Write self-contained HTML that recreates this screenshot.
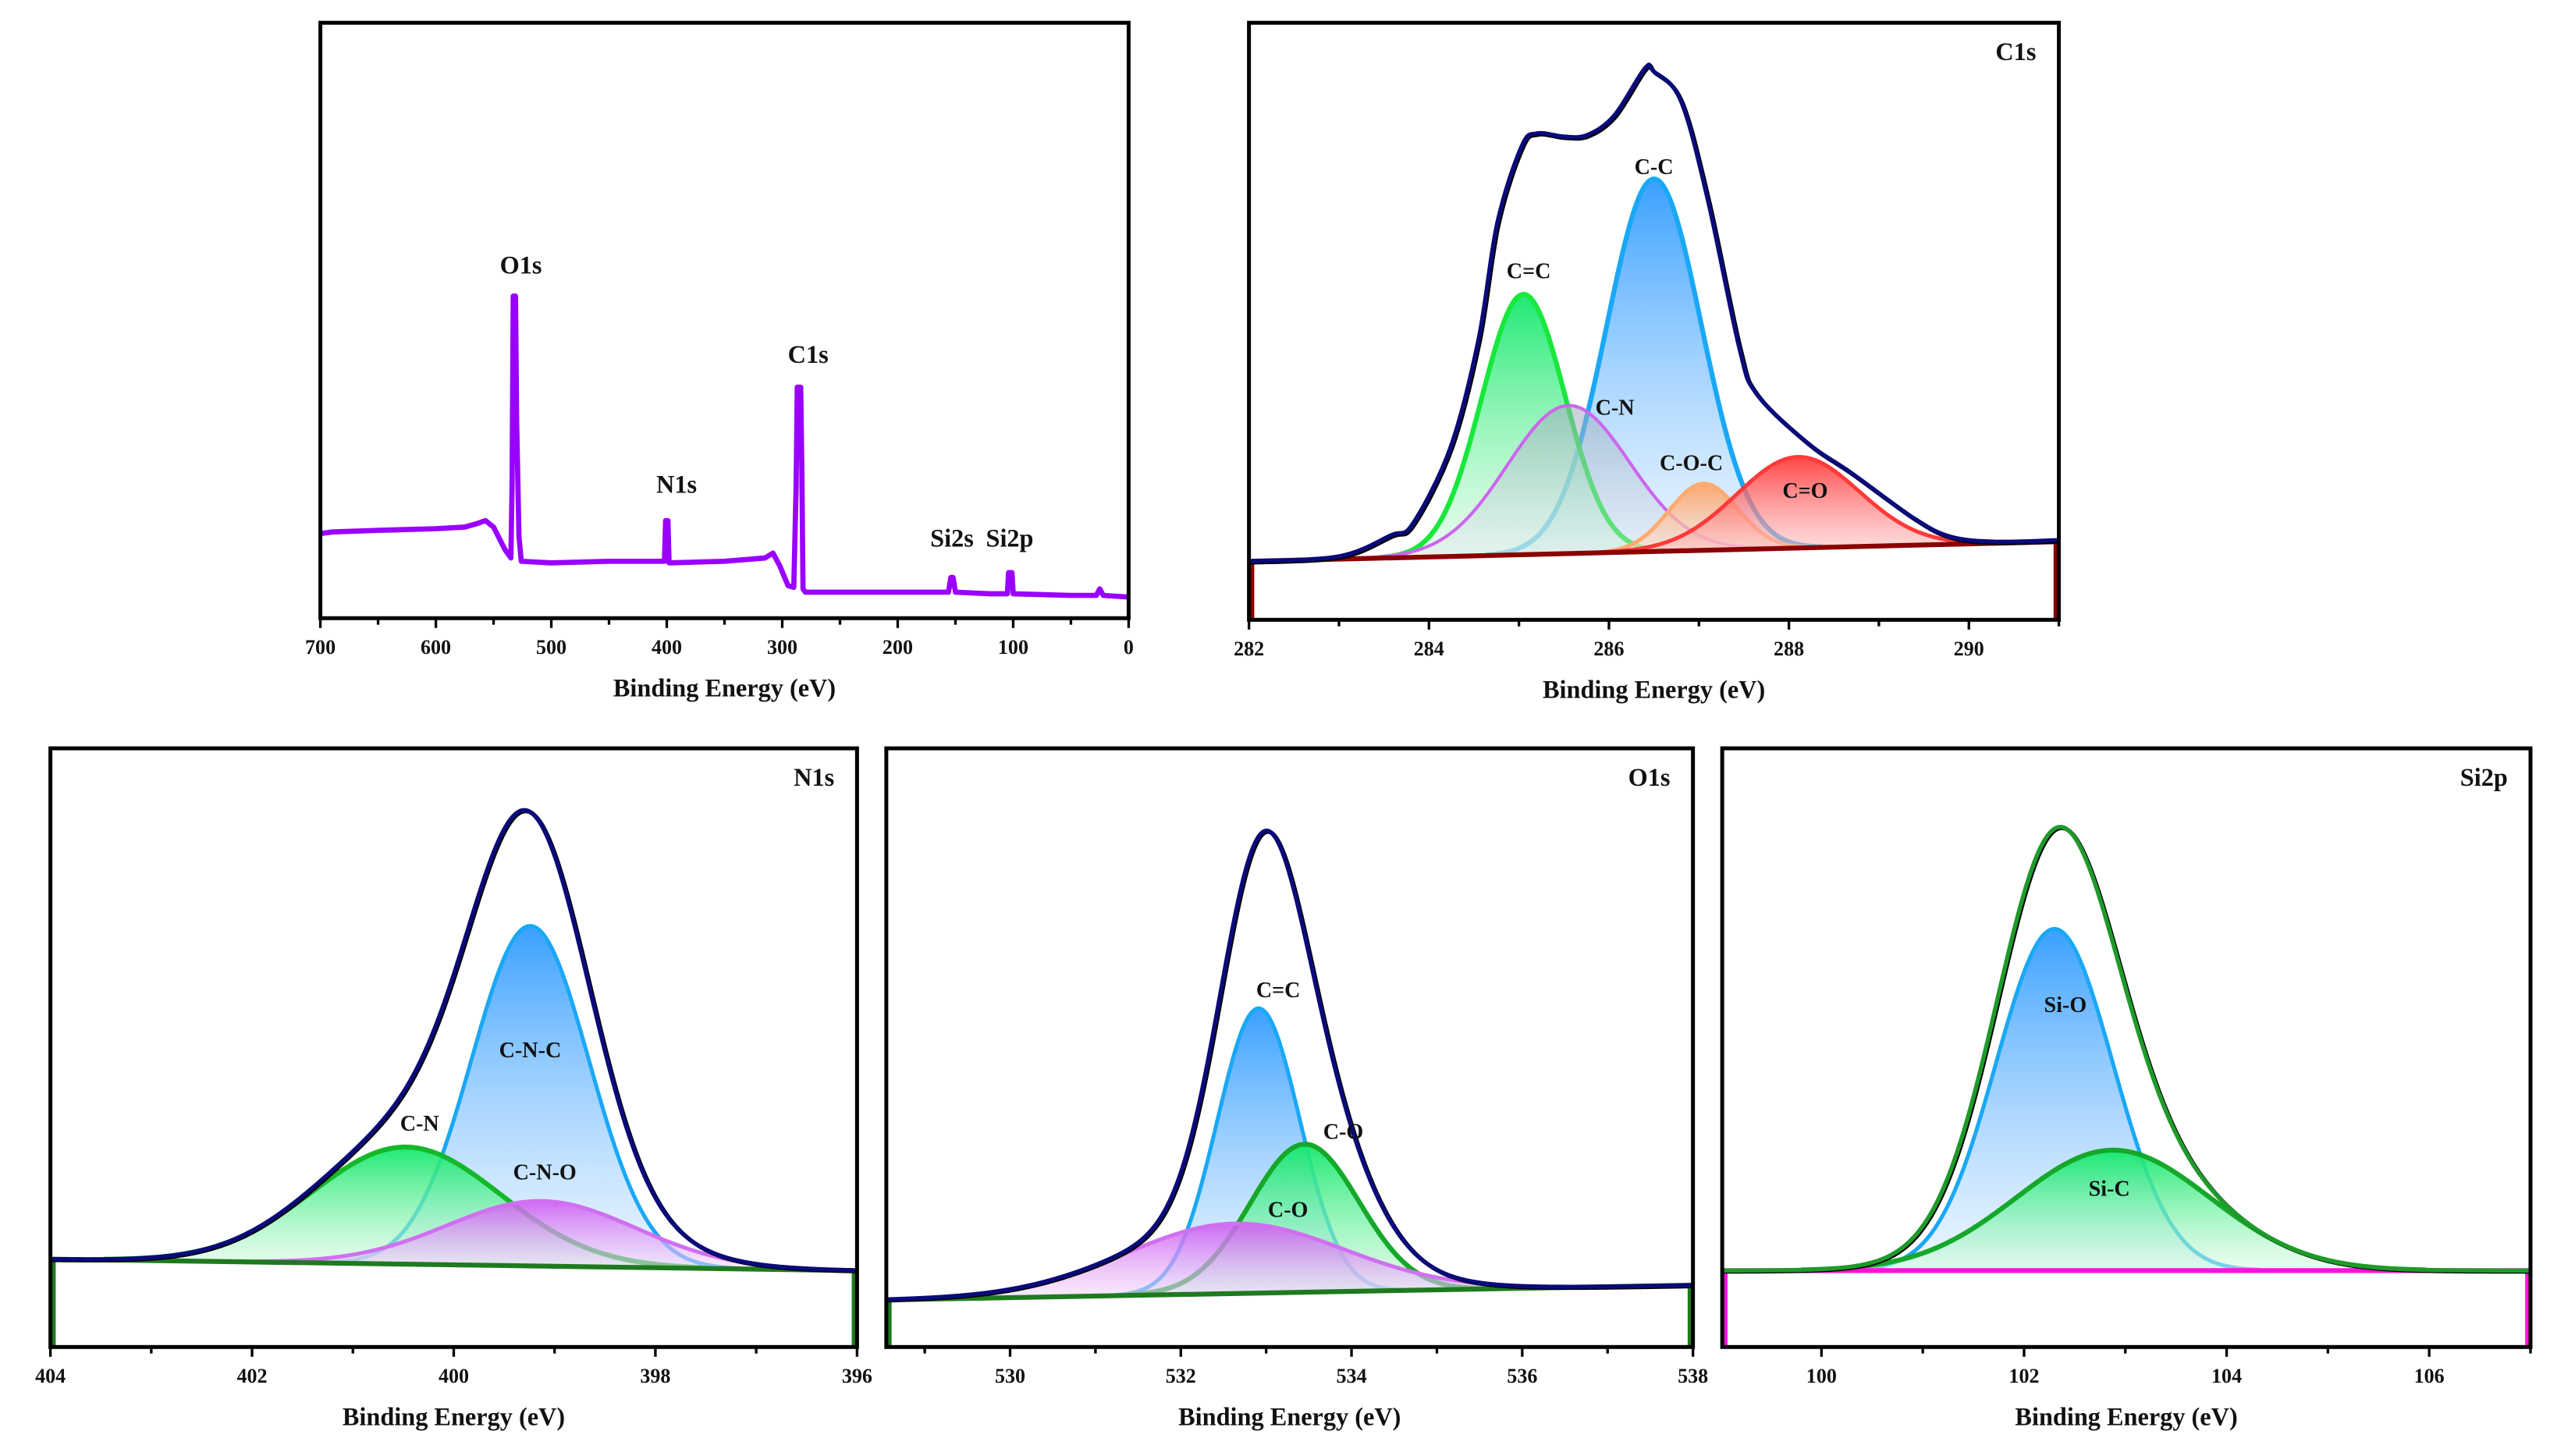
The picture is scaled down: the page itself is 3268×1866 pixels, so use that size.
<!DOCTYPE html>
<html><head><meta charset="utf-8"><style>
html,body{margin:0;padding:0;background:#fff;}
svg{display:block;}
text{font-family:"Liberation Serif",serif;font-weight:bold;fill:#111;}
</style></head><body>
<svg id="xpsfig" width="3268" height="1866" viewBox="0 0 1568 895" preserveAspectRatio="none" xmlns="http://www.w3.org/2000/svg">
<defs>
<linearGradient id="gBlue" x1="0" y1="0" x2="0" y2="1"><stop offset="0" stop-color="#2f9bff" stop-opacity="0.95"/><stop offset="1" stop-color="#d8ecff" stop-opacity="0.5"/></linearGradient>
<linearGradient id="gGreen" x1="0" y1="0" x2="0" y2="1"><stop offset="0" stop-color="#12e86a" stop-opacity="0.95"/><stop offset="1" stop-color="#d8fbe0" stop-opacity="0.5"/></linearGradient>
<linearGradient id="gMag" x1="0" y1="0" x2="0" y2="1"><stop offset="0" stop-color="#cf5cf2" stop-opacity="0.9"/><stop offset="1" stop-color="#f3dcfb" stop-opacity="0.5"/></linearGradient>
<linearGradient id="gOrange" x1="0" y1="0" x2="0" y2="1"><stop offset="0" stop-color="#ffa060" stop-opacity="0.9"/><stop offset="1" stop-color="#ffe6d6" stop-opacity="0.5"/></linearGradient>
<linearGradient id="gRed" x1="0" y1="0" x2="0" y2="1"><stop offset="0" stop-color="#ff3030" stop-opacity="0.9"/><stop offset="1" stop-color="#ffd0d0" stop-opacity="0.5"/></linearGradient>
<linearGradient id="gGray" x1="0" y1="0" x2="0" y2="1"><stop offset="0" stop-color="#9aa8b8" stop-opacity="0.55"/><stop offset="1" stop-color="#dfe6ee" stop-opacity="0.35"/></linearGradient>
</defs>
</svg>
<script>
// ---------- Survey data ----------
var surveyEnergy = [700,690,650,600,575,565,557,550,540,535,534,533,531,530,528,526,500,450,402,401,399,398,350,315,308,302,295,290,288,287,284,283,282,280,200,156,154,152,150,120,105,104,101,100,50,28,25,22,0];
var surveyCounts = [52,53,54,55,56,58,60,56,42,37,80,198,198,120,50,35,34,35,35,60,60,34,35,37,40,32,20,19,80,142,142,90,18,16,16,16,25,25,16,15,15,28,28,15,14,14,18,14,13];
var surveyTicks = [700,600,500,400,300,200,100,0];
var surveyPeakNames = ["O1s","N1s","C1s","Si2s","Si2p"];
var surveyPeakPos = [532,400,286,153,103];
var surveyPeakLabelCounts = [212,77,157,44,44];

// ---------- C1s ----------
var c1sNames = ["C=C","C-N","C-C","C-O-C","C=O"];
var c1sCenters = [285.05,285.55,286.5,287.05,288.1];
var c1sHeights = [160,91,229,41,56];
var c1sFwhm = [1.09,1.6,1.24,0.9,1.6];
var c1sBaseline = [36,48];
var c1sTicks = [282,284,286,288,290];
// measured C1s spectrum (envelope)
var c1sRawEnergy = [282,283,283.58,283.82,284.24,284.55,284.76,285.03,285.2,285.5,285.76,286.06,286.4,286.5,286.8,287.1,287.45,287.64,288.2,288.7,289.4,289.8,290.3,291];
var c1sRawCounts = [36,39,52,59,106,172,244,291,299,297,298,310,339,337,319,258,167,139,109,90,62,51,48,49];

// ---------- N1s ----------
var n1sNames = ["C-N","C-N-C","C-N-O"];
var n1sCenters = [400.47,399.24,399.13];
var n1sHeights = [72,209,40];
var n1sFwhm = [2.2,1.37,2.2];
var n1sBaseline = [54,47];
var n1sTicks = [404,402,400,398,396];

// ---------- O1s ----------
var o1sNames = ["C=C","C-O","C-O"];
var o1sCenters = [532.91,533.45,532.63];
var o1sHeights = [175,91,43];
var o1sFwhm = [1.14,1.5,3.0];
var o1sBaseline = [29,38];
var o1sTicks = [530,532,534,536,538];

// ---------- Si2p ----------
var si2pNames = ["Si-O","Si-C"];
var si2pCenters = [102.3,102.88];
var si2pHeights = [210,74];
var si2pFwhm = [1.36,2.25];
var si2pBaseline = [47,47];
var si2pTicks = [100,102,104,106];

(function(){
  var SVGNS = "http://www.w3.org/2000/svg";
  var root = document.getElementById('xpsfig');
  function mk(tag, attrs, parent){
    var e = document.createElementNS(SVGNS, tag);
    for (var k in attrs) e.setAttribute(k, String(attrs[k]));
    (parent || root).appendChild(e);
    return e;
  }
  function txt(s, x, y, size, parent, anchor){
    var t = mk('text', {x:x, y:y, 'font-size':size, 'text-anchor':anchor || 'middle'}, parent);
    t.textContent = s;
    return t;
  }
  function lin(d0,d1,r0,r1){ return function(v){ return r0 + (v-d0)/(d1-d0)*(r1-r0); }; }
  function pathFrom(pts){
    var s = '';
    for (var i=0;i<pts.length;i++) s += (i?'L':'M') + pts[i][0].toFixed(2) + ',' + pts[i][1].toFixed(2);
    return s;
  }
  // smooth path through points (Catmull-Rom)
  function smoothPath(pts){
    if (pts.length < 3) return pathFrom(pts);
    var s = 'M' + pts[0][0].toFixed(2) + ',' + pts[0][1].toFixed(2);
    for (var i=0;i<pts.length-1;i++){
      var p0 = pts[i-1] || pts[i], p1 = pts[i], p2 = pts[i+1], p3 = pts[i+2] || p2;
      var c1x = p1[0] + (p2[0]-p0[0])/6, c1y = p1[1] + (p2[1]-p0[1])/6;
      var c2x = p2[0] - (p3[0]-p1[0])/6, c2y = p2[1] - (p3[1]-p1[1])/6;
      s += 'C' + c1x.toFixed(2)+','+c1y.toFixed(2)+' '+c2x.toFixed(2)+','+c2y.toFixed(2)+' '+p2[0].toFixed(2)+','+p2[1].toFixed(2);
    }
    return s;
  }
  function drawAxes(g, box, xs, ticks, minorStep, d0, d1){
    var b = mk('rect', {x:box.x0, y:box.y0, width:box.x1-box.x0, height:box.y1-box.y0, fill:'none', stroke:'#000', 'stroke-width':2.4}, g);
    
    
    var lo = Math.min(d0,d1), hi = Math.max(d0,d1);
    var start = Math.ceil(lo/minorStep)*minorStep;
    for (var v = start; v <= hi+1e-9; v += minorStep){
      var x = xs(v);
      var major = false;
      for (var j=0;j<ticks.length;j++) if (Math.abs(ticks[j]-v)<1e-6) major = true;
      var tk = mk('line', {x1:x, x2:x, y1:box.y1, y2:box.y1+(major?6:4), stroke:'#000', 'stroke-width':1.6}, g);
      
      
    }
    for (var i=0;i<ticks.length;i++){
      var t = txt(String(ticks[i]), xs(ticks[i]), box.y1+22, 12.5, g);
      
      
    }
    var ttl = txt('Binding Energy (eV)', (box.x0+box.x1)/2, box.y1+48, 15.5, g);
    
    
  }

  // ---------- Survey panel ----------
  (function(){
    var g = mk('g', {});
    
    
    var box = {x0:197, x1:694, y0:14, y1:380};
    var xs = lin(700, 0, box.x0, box.x1);
    var ys = lin(0, 366, box.y1, box.y0);
    var pts = [];
    for (var i=0;i<surveyEnergy.length;i++) pts.push([xs(surveyEnergy[i]), ys(surveyCounts[i])]);
    var p = mk('path', {d:pathFrom(pts), fill:'none', stroke:'#9900ff', 'stroke-width':3.2, 'stroke-linejoin':'round'}, g);
    
    
    drawAxes(g, box, xs, surveyTicks, 50, 700, 0);
    for (var k=0;k<surveyPeakNames.length;k++){
      var off = k===0 ? 4 : (k>=3 ? 0 : 6);
      var t = txt(surveyPeakNames[k], xs(surveyPeakPos[k]) + off, ys(surveyPeakLabelCounts[k]), 15.5, g);
      
      
    }
  })();

  function fitPanel(opt){
    var g = mk('g', {});
    
    
    var box = opt.box;
    var xs = lin(opt.d0, opt.d1, box.x0, box.x1);
    var ys = lin(0, box.y1-box.y0, box.y1, box.y0);
    var lo = Math.min(opt.d0,opt.d1), hi = Math.max(opt.d0,opt.d1);
    var N = 500, es = [];
    for (var i=0;i<=N;i++) es.push(lo + (hi-lo)*i/N);
    function base(e){ return opt.baseline[0] + (e-opt.d0)/(opt.d1-opt.d0)*(opt.baseline[1]-opt.baseline[0]); }
    function gauss(k,e){ var s = opt.fwhm[k]/2.3548; var d = e-opt.centers[k]; return opt.heights[k]*Math.exp(-d*d/(2*s*s)); }
    for (var oi=0; oi<opt.order.length; oi++){
      var k = opt.order[oi];
      var topPts = [], botPts = [], vis = [];
      for (var a=0;a<es.length;a++){
        var gv = gauss(k, es[a]);
        var pt = [xs(es[a]), ys(base(es[a]) + gv)];
        topPts.push(pt);
        if (gv > 0.4) vis.push(pt);
      }
      for (var b2=es.length-1;b2>=0;b2--) botPts.push([xs(es[b2]), ys(base(es[b2]))]);
      var f = mk('path', {d:pathFrom(topPts.concat(botPts))+'Z', fill:'url(#'+opt.fills[k]+')', stroke:'none'}, g);
      
      
      var l = mk('path', {d:pathFrom(vis), fill:'none', stroke:opt.strokes[k], 'stroke-width':opt.lw[k]}, g);
      
      
    }
    var bl = mk('path', {d:pathFrom([[box.x0+1.5, ys(base(opt.d0))],[box.x1-1.5, ys(base(opt.d1))]]), fill:'none', stroke:opt.baseColor, 'stroke-width':3}, g);
    
    
    var legs = [[opt.d0, box.x0+2],[opt.d1, box.x1-2]];
    for (var q=0;q<legs.length;q++){
      var leg = mk('line', {x1:legs[q][1], x2:legs[q][1], y1:ys(base(legs[q][0])), y2:box.y1, stroke:opt.baseColor, 'stroke-width':2.5}, g);
      
      
    }
    var envD, rawD;
    if (opt.rawE){
      var rp = [], rp2 = [];
      for (var r=0;r<opt.rawE.length;r++){
        rp.push([xs(opt.rawE[r]), ys(opt.rawC[r])]);
        rp2.push([xs(opt.rawE[r])+0.8, ys(opt.rawC[r])+0.8]);
      }
      envD = smoothPath(rp); rawD = smoothPath(rp2);
    } else {
      var env = [], rawPts = [];
      for (var m=0;m<es.length;m++){
        var s = base(es[m]);
        for (var c=0;c<opt.centers.length;c++) s += gauss(c, es[m]);
        env.push([xs(es[m]), ys(s)]);
        rawPts.push([xs(es[m])+0.8, ys(s)+0.6]);
      }
      envD = pathFrom(env); rawD = pathFrom(rawPts);
    }
    var raw = mk('path', {d:rawD, fill:'none', stroke:'#000', 'stroke-width':2.6}, g);
    
    
    var ev = mk('path', {d:envD, fill:'none', stroke:opt.envColor, 'stroke-width':2.6}, g);
    
    
    drawAxes(g, box, xs, opt.ticks, 1, opt.d0, opt.d1);
    var title = txt(opt.title, box.x1-14, box.y0+23, 15.5, g, 'end');
    
    
    for (var n=0;n<opt.names.length;n++){
      var t = txt(opt.names[n], opt.labelPos[n][0], opt.labelPos[n][1], 13.5, g);
      
      
    }
  }

  fitPanel({name:'c1s-panel', title:'C1s', box:{x0:768,x1:1266,y0:14,y1:381}, d0:282, d1:291,
    names:c1sNames, centers:c1sCenters, heights:c1sHeights, fwhm:c1sFwhm, baseline:c1sBaseline, ticks:c1sTicks,
    rawE:c1sRawEnergy, rawC:c1sRawCounts,
    order:[2,0,1,3,4], fills:['gGreen','gGray','gBlue','gOrange','gRed'],
    strokes:['#18e83c','#cc66ee','#1aa8f5','#ffaa70','#ff3a3a'], lw:[3,2,3,2.4,2.4],
    baseColor:'#8b0000', envColor:'#0a0a7a',
    labelPos:[[940,171],[993,255],[1017,107],[1040,289],[1110,306]]});

  fitPanel({name:'n1s-panel', title:'N1s', box:{x0:31,x1:527,y0:460,y1:828}, d0:404, d1:396,
    names:n1sNames, centers:n1sCenters, heights:n1sHeights, fwhm:n1sFwhm, baseline:n1sBaseline, ticks:n1sTicks,
    order:[1,0,2], fills:['gGreen','gBlue','gMag'],
    strokes:['#15b82a','#1aa8f5','#d070f0'], lw:[3,2.4,2.4],
    baseColor:'#1e7a1e', envColor:'#0a0a7a',
    labelPos:[[258,695],[326,650],[335,725]]});

  fitPanel({name:'o1s-panel', title:'O1s', box:{x0:545,x1:1041,y0:460,y1:828}, d0:528.55, d1:538,
    names:o1sNames, centers:o1sCenters, heights:o1sHeights, fwhm:o1sFwhm, baseline:o1sBaseline, ticks:o1sTicks,
    order:[0,1,2], fills:['gBlue','gGreen','gMag'],
    strokes:['#1aa8f5','#15a82a','#d070f0'], lw:[2.4,3,2.4],
    baseColor:'#1e7a1e', envColor:'#0a0a7a',
    labelPos:[[786,613],[826,700],[792,748]]});

  fitPanel({name:'si2p-panel', title:'Si2p', box:{x0:1059,x1:1556,y0:460,y1:828}, d0:99.02, d1:107,
    names:si2pNames, centers:si2pCenters, heights:si2pHeights, fwhm:si2pFwhm, baseline:si2pBaseline, ticks:si2pTicks,
    order:[0,1], fills:['gBlue','gGreen'],
    strokes:['#1aa8f5','#15a82a'], lw:[2.4,3],
    baseColor:'#ff10e0', envColor:'#1f9a2a',
    labelPos:[[1270,622],[1297,735]]});
})();
</script>
</body></html>
